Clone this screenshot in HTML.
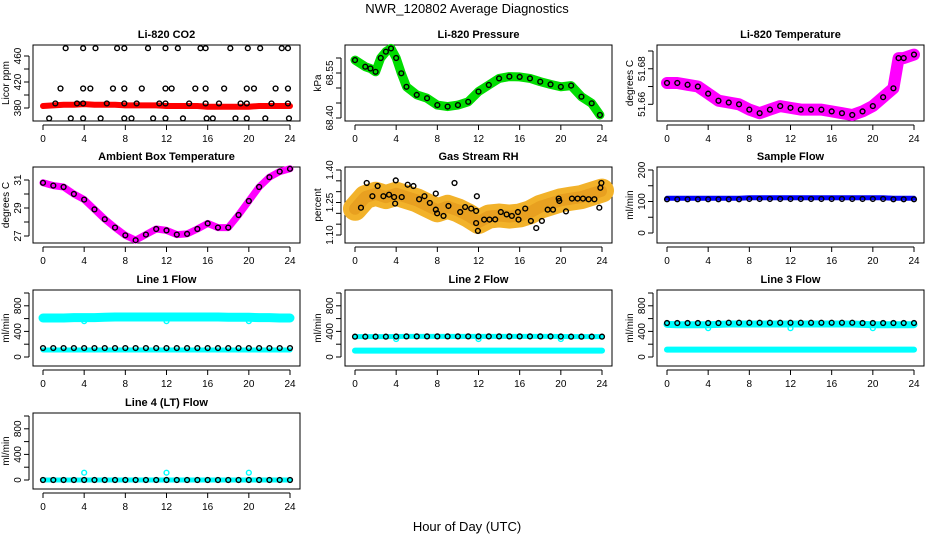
<!DOCTYPE html>
<html><head><meta charset="utf-8"><style>
html,body{margin:0;padding:0;background:#fff;}
svg text{font-family:"Liberation Sans",sans-serif;fill:#000;}
</style></head><body>
<svg id="c" width="936" height="540" viewBox="0 0 936 540" xmlns="http://www.w3.org/2000/svg">
<text x="467" y="13" font-size="13" text-anchor="middle">NWR_120802  Average Diagnostics</text>
<text x="467" y="531" font-size="13" text-anchor="middle">Hour of Day (UTC)</text>
</svg>
<script>
// ---- data ----
const hours = [0,1,2,3,4,5,6,7,8,9,10,11,12,13,14,15,16,17,18,19,20,21,22,23,24];
const xTicks = [0,4,8,12,16,20,24];

const co2Red = [383,384,385,385,386,385,385,385,384,384,384,384,383,383,383,383,382,382,382,382,382,383,383,383,383];
const co2PtsX = [2.2,3.9,5.1,7.2,7.9,10.2,11.9,13.1,15.3,15.8,18.2,19.9,21.1,23.2,23.8,
 1.7,3.9,4.6,6.8,7.9,9.6,11.9,12.5,14.8,15.8,17.6,19.8,20.5,22.6,23.8,
 1.2,3.3,3.9,6.2,7.9,9.1,11.3,11.9,14.2,15.8,17.1,19.2,19.8,22.2,23.8,
 0.6,2.7,3.9,5.6,7.9,8.6,10.7,11.9,13.6,15.9,16.5,18.7,19.8,21.6,23.9];
const co2PtsY = [472,472,472,472,472,472,472,472,472,472,472,472,472,472,472,
 410,410,410,410,410,410,410,410,410,410,410,410,410,410,410,
 387,387,387,387,387,387,387,387,387,387,387,387,387,387,387,
 364,364,364,364,364,364,364,364,364,364,364,364,364,364,364];

const presX = [0,1,1.5,2,2.5,3,3.5,4,4.5,5,6,7,8,9,10,11,12,13,14,15,16,17,18,19,20,21,22,23,23.8];
const presV = [68.593,68.571,68.565,68.554,68.600,68.621,68.632,68.600,68.549,68.504,68.477,68.466,68.443,68.438,68.443,68.454,68.488,68.510,68.532,68.538,68.537,68.532,68.521,68.512,68.504,68.508,68.471,68.449,68.410];

const tempX = [0,1,2,3,4,5,6,7,8,9,10,11,12,13,14,15,16,17,18,19,20,21,22,22.5,23,24];
const tempV = [51.672,51.672,51.671,51.670,51.666,51.662,51.661,51.660,51.657,51.655,51.657,51.659,51.658,51.657,51.657,51.657,51.656,51.655,51.654,51.656,51.659,51.664,51.669,51.686,51.686,51.688];

const ambV = [30.8,30.6,30.5,30.0,29.6,28.9,28.2,27.6,27.05,26.7,27.1,27.5,27.4,27.1,27.15,27.5,27.9,27.6,27.6,28.5,29.5,30.5,31.2,31.6,31.8];

const rhBand = [1.221,1.275,1.29,1.275,1.29,1.275,1.26,1.237,1.214,1.23,1.214,1.19,1.16,1.185,1.19,1.185,1.19,1.205,1.23,1.245,1.26,1.268,1.275,1.29,1.305];
const rhPtsX = [0.58,1.14,1.69,2.2,2.76,3.31,3.8,3.9,3.96,4.54,5.12,5.68,6.23,6.75,7.27,7.85,7.85,7.98,8.6,9.08,9.67,10.22,10.7,11.29,11.77,11.84,11.77,11.94,12.55,13.07,13.62,14.17,14.73,15.24,15.83,15.89,16.54,17.09,17.61,18.16,18.72,19.24,19.79,19.85,20.5,21.08,21.63,22.15,22.7,23.26,23.74,23.84,23.94];
const rhPtsV = [1.226,1.34,1.279,1.326,1.279,1.286,1.275,1.245,1.352,1.275,1.332,1.326,1.265,1.279,1.248,1.217,1.291,1.20,1.188,1.234,1.34,1.206,1.229,1.222,1.211,1.279,1.155,1.119,1.171,1.171,1.172,1.206,1.195,1.188,1.206,1.171,1.222,1.165,1.132,1.165,1.217,1.217,1.268,1.257,1.209,1.268,1.268,1.268,1.265,1.265,1.226,1.318,1.34];

const sampleBlue = [110,110,110,110,110,110,110,110,112,112,112,112,112,112,112,112,112,112,112,112,112,112,110,110,110];
const sampleBlack = [107,107,107,107,107,107,107,107,108,108,108,108,108,108,108,108,108,108,108,108,108,108,107,107,107];

const l1CyanHi = [610,610,610,615,615,615,620,625,625,625,625,625,625,625,625,625,625,625,620,620,620,615,615,610,610];
const l1CyanLo = [110,110,110,110,110,110,110,110,110,110,110,110,110,110,110,110,110,110,110,110,110,110,110,110,110];
const l1Black = [140,140,140,140,140,140,140,140,140,140,140,140,140,140,140,140,140,140,140,140,140,140,140,140,140];
const dipX = [4,12,20];
const l1Dip = [560,560,560];

const l2CyanLo = [100,100,100,100,100,100,100,100,100,100,100,100,100,100,100,100,100,100,100,100,100,100,100,100,100];
const l2Black = [318,318,318,318,320,322,322,322,322,322,322,322,322,322,322,322,322,322,322,322,320,318,318,318,318];
const l2Dip = [280,280,280];

const l3CyanHi = [510,505,505,505,505,510,515,515,515,515,515,515,515,515,515,515,515,515,515,510,505,505,505,505,505];
const l3CyanLo = [115,115,115,115,115,115,115,115,115,115,115,115,115,115,115,115,115,115,115,115,115,115,115,115,115];
const l3Black = [531,531,531,531,531,531,535,535,535,535,535,535,535,535,535,535,535,535,535,531,531,531,531,531,531];
const l3Dip = [450,450,450];

const l4Black = [0,0,0,0,0,0,0,0,0,0,0,0,0,0,0,0,0,0,0,0,0,0,0,0,0];
const l4Bump = [114,114,114];

// ---- drawing ----
const svg = document.getElementById('c');
const NS = 'http://www.w3.org/2000/svg';
function mk(tag, attrs, parent){
  const e = document.createElementNS(NS, tag);
  for (const k in attrs) e.setAttribute(k, attrs[k]);
  (parent||svg).appendChild(e);
  return e;
}
const colLeft = [33,345,657];
const rowTop = [45,167,290,413];
const W = 267, H = 76;

function panel(name, title, row, col, yRef, yTicks, yLabels, ylab){
  const L = colLeft[col], T = rowTop[row];
  const g = mk('g', {});
  
  
  const xs = h => L + 10 + h * (247/24);
  const ys = v => yRef[1] + (v - yRef[0]) * (yRef[3] - yRef[1]) / (yRef[2] - yRef[0]);
  const box = mk('rect', {x:L, y:T, width:W, height:H, fill:'none', stroke:'#000', 'stroke-width':1}, g);
  
  
  const t = mk('text', {x:L + W/2, y:T - 7, 'font-size':11, 'font-weight':'bold', 'text-anchor':'middle'}, g);
  t.textContent = title;
  
  
  const B = T + H;
  const xa = mk('g', {}, g);
  
  
  mk('line', {x1:xs(0), x2:xs(24), y1:B+4, y2:B+4, stroke:'#000'}, xa);
  xTicks.forEach(h => {
    mk('line', {x1:xs(h), x2:xs(h), y1:B+4, y2:B+9, stroke:'#000'}, xa);
    const tl = mk('text', {x:xs(h), y:B+21, 'font-size':10, 'text-anchor':'middle'}, xa);
    tl.textContent = h;
  });
  const ya = mk('g', {}, g);
  
  
  mk('line', {x1:L-4, x2:L-4, y1:ys(yTicks[0]), y2:ys(yTicks[yTicks.length-1]), stroke:'#000'}, ya);
  yTicks.forEach(v => mk('line', {x1:L-4, x2:L-9, y1:ys(v), y2:ys(v), stroke:'#000'}, ya));
  yLabels.forEach(s => {
    const y = ys(parseFloat(s));
    const tl = mk('text', {x:0, y:0, 'font-size':10, 'text-anchor':'middle', transform:`translate(${L-12},${y}) rotate(-90)`}, ya);
    tl.textContent = s;
  });
  const yl = mk('text', {x:0, y:0, 'font-size':10, 'text-anchor':'middle', transform:`translate(${L-24},${T+H/2}) rotate(-90)`}, g);
  yl.textContent = ylab;
  
  
  return {g, xs, ys};
}
function band(p, xArr, vArr, color, w, nm, dash){
  const pts = xArr.map((h,i) => p.xs(h).toFixed(1) + ',' + p.ys(vArr[i]).toFixed(1)).join(' ');
  const a = {points:pts, fill:'none', stroke:color, 'stroke-width':w, 'stroke-linejoin':'round', 'stroke-linecap':'round'};
  if (dash) a['stroke-dasharray'] = dash;
  const pl = mk('polyline', a, p.g);
  
  
}
function dots(p, xArr, vArr, color, nm, r){
  xArr.forEach((h,i) => {
    const c = mk('circle', {cx:p.xs(h), cy:p.ys(vArr[i]), r:r||2.4, fill:'none', stroke:color, 'stroke-width':1.4}, p.g);
    
    
  });
}
const flowTicks = [0,200,400,600,800,1000];
const flowLabels = ['0','400','800'];

let p = panel('co2', 'Li-820 CO2', 0, 0, [380,108,460,56], [380,400,420,440,460], ['380','420','460'], 'Licor ppm');
band(p, hours, co2Red, '#f00', 6, 'co2-red-series');
dots(p, co2PtsX, co2PtsY, '#000', 'co2-point');

p = panel('pressure', 'Li-820 Pressure', 0, 1, [68.40,118,68.60,58], [68.40,68.45,68.50,68.55,68.60], ['68.40','68.55'], 'kPa');
band(p, presX, presV, '#0d0', 9, 'pressure-green-series');
dots(p, presX, presV, '#000', 'pressure-point');

p = panel('li820-temp', 'Li-820 Temperature', 0, 2, [51.66,104.3,51.69,51], [51.66,51.67,51.68,51.69], ['51.66','51.68'], 'degrees C');
band(p, tempX, tempV, '#f0f', 12, 'li820-temp-magenta-series');
dots(p, tempX, tempV, '#000', 'li820-temp-point');

p = panel('ambient', 'Ambient Box Temperature', 1, 0, [27,236,31,180], [27,28,29,30,31], ['27','29','31'], 'degrees C');
band(p, hours, ambV, '#f0f', 7, 'ambient-magenta-series');
dots(p, hours, ambV, '#000', 'ambient-point');

p = panel('rh', 'Gas Stream RH', 1, 1, [1.10,235,1.40,170], [1.10,1.15,1.20,1.25,1.30,1.35,1.40], ['1.10','1.25','1.40'], 'percent');
band(p, hours, rhBand, '#f2b22a', 24, 'rh-orange-series');
band(p, hours, rhBand, '#e8a020', 12, 'rh-orange-core', '2 2');
dots(p, rhPtsX, rhPtsV, '#000', 'rh-point');

p = panel('sample-flow', 'Sample Flow', 1, 2, [0,233,200,170], [0,50,100,150,200], ['0','100','200'], 'ml/min');
band(p, hours, sampleBlue, '#00f', 5, 'sample-blue-series');
dots(p, hours, sampleBlack, '#000', 'sample-point');

p = panel('line1', 'Line 1 Flow', 2, 0, [0,357,1000,293], flowTicks, flowLabels, 'ml/min');
band(p, hours, l1CyanHi, '#0ff', 9, 'line1-cyan-high');
band(p, hours, l1CyanLo, '#0ff', 5, 'line1-cyan-low');
dots(p, dipX, l1Dip, '#0ff', 'line1-cyan-dip');
dots(p, hours, l1Black, '#000', 'line1-point');

p = panel('line2', 'Line 2 Flow', 2, 1, [0,357,1000,293], flowTicks, flowLabels, 'ml/min');
band(p, hours, l2CyanLo, '#0ff', 6, 'line2-cyan-low');
band(p, hours, l2Black, '#0ff', 5, 'line2-cyan-high');
dots(p, dipX, l2Dip, '#0ff', 'line2-cyan-dip');
dots(p, hours, l2Black, '#000', 'line2-point');

p = panel('line3', 'Line 3 Flow', 2, 2, [0,357,1000,293], flowTicks, flowLabels, 'ml/min');
band(p, hours, l3CyanHi, '#0ff', 7, 'line3-cyan-high');
band(p, hours, l3CyanLo, '#0ff', 6, 'line3-cyan-low');
dots(p, dipX, l3Dip, '#0ff', 'line3-cyan-dip');
dots(p, hours, l3Black, '#000', 'line3-point');

p = panel('line4', 'Line 4 (LT) Flow', 3, 0, [0,480,1000,416], flowTicks, flowLabels, 'ml/min');
band(p, hours, l4Black, '#0ff', 5, 'line4-cyan-series');
dots(p, dipX, l4Bump, '#0ff', 'line4-cyan-bump');
dots(p, hours, l4Black, '#000', 'line4-point');
</script>
</body></html>
